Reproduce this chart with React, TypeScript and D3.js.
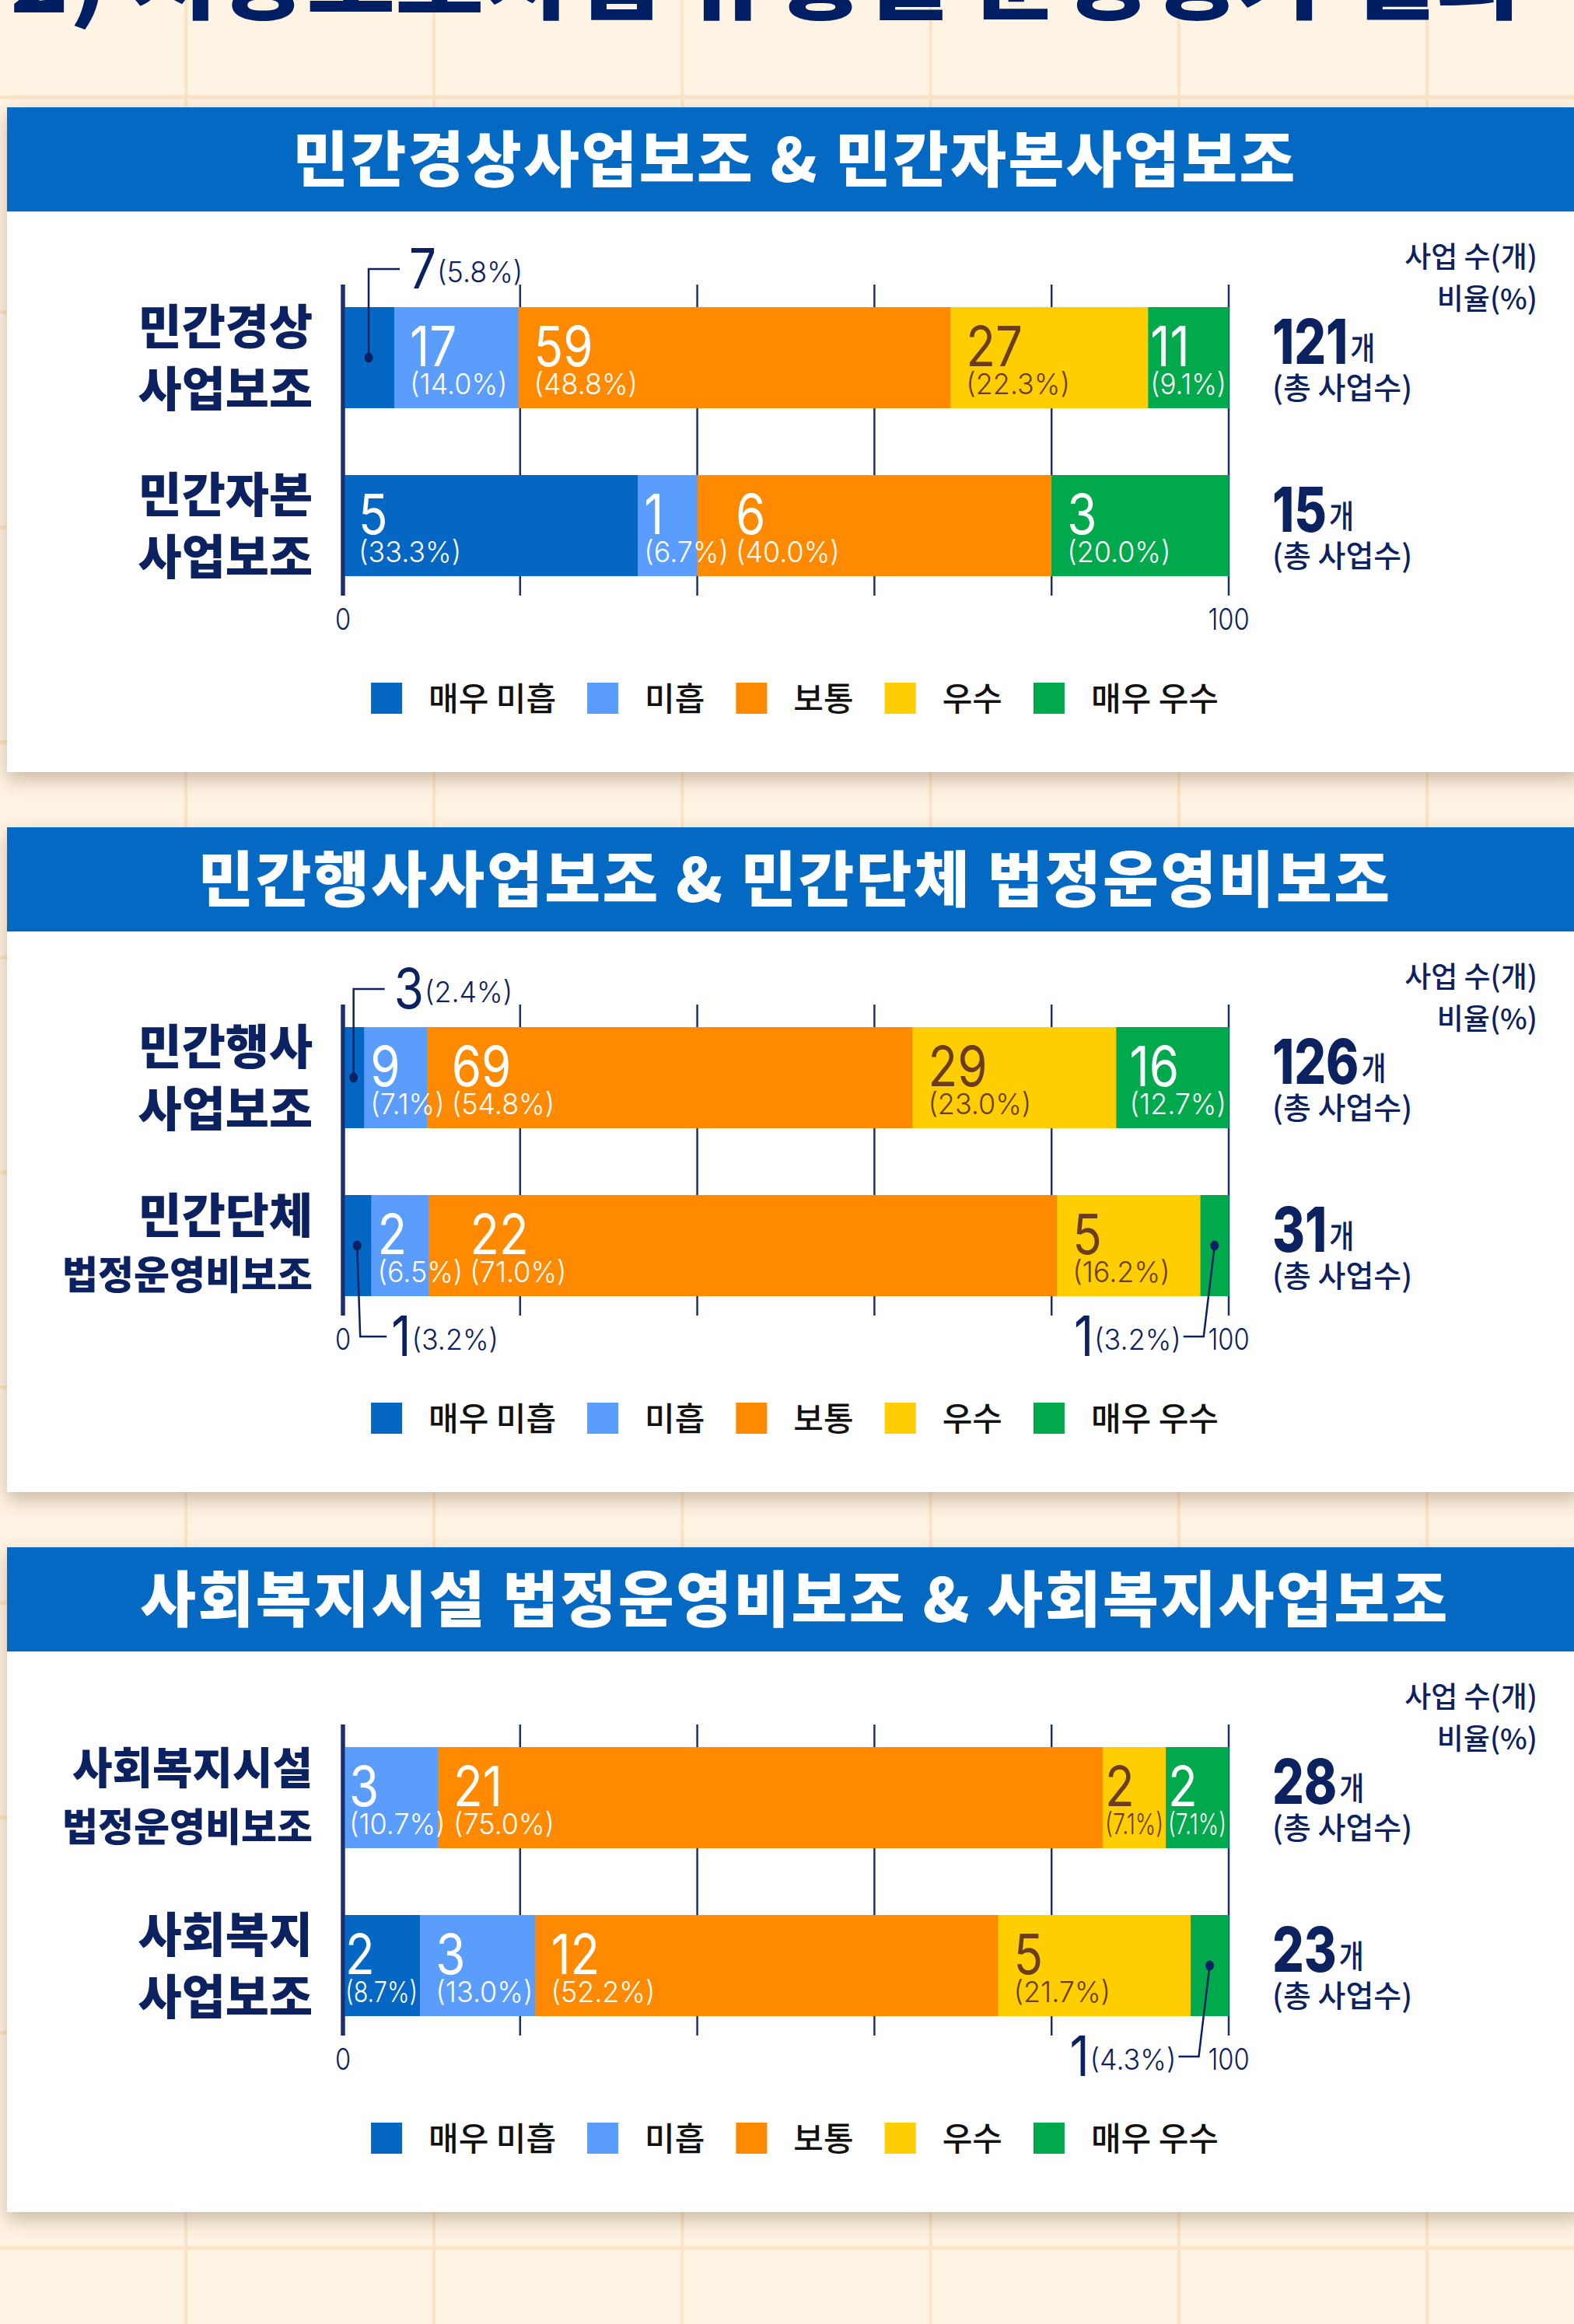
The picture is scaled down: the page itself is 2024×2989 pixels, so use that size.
import React from 'react';
import * as d3 from 'd3';

const W = 2024;
const H = 2989;

// ---------- data ----------
const titleText = '2) 지방보조사업 유형별 운영평가 결과';
const categories = ['매우 미흡', '미흡', '보통', '우수', '매우 우수'];
const categoryColors = ['#0467C3', '#5B9DFC', '#FF8A00', '#FFCE00', '#00A94B'];
const labelColors = ['#FFFFFF', '#FFFFFF', '#FFFFFF', '#6B3D1F', '#FFFFFF'];

const panelTitles = [
  '민간경상사업보조 & 민간자본사업보조',
  '민간행사사업보조 & 민간단체 법정운영비보조',
  '사회복지시설 법정운영비보조 & 사회복지사업보조',
];
const rowLabelsPanel1 = [['민간경상', '사업보조'], ['민간자본', '사업보조']];
const rowLabelsPanel2 = [['민간행사', '사업보조'], ['민간단체', '법정운영비보조']];
const rowLabelsPanel3 = [['사회복지시설', '법정운영비보조'], ['사회복지', '사업보조']];

const countsPanel1 = [[7, 17, 59, 27, 11], [5, 1, 6, 0, 3]];
const countsPanel2 = [[3, 9, 69, 29, 16], [1, 2, 22, 5, 1]];
const countsPanel3 = [[0, 3, 21, 2, 2], [2, 3, 12, 5, 1]];

const percentPanel1 = [[5.8, 14.0, 48.8, 22.3, 9.1], [33.3, 6.7, 40.0, 0, 20.0]];
const percentPanel2 = [[2.4, 7.1, 54.8, 23.0, 12.7], [3.2, 6.5, 71.0, 16.2, 3.2]];
const percentPanel3 = [[0, 10.7, 75.0, 7.1, 7.1], [8.7, 13.0, 52.2, 21.7, 4.3]];

const totalsPanel1 = [121, 15];
const totalsPanel2 = [126, 31];
const totalsPanel3 = [28, 23];

const xTicks = [0, 20, 40, 60, 80, 100];
const xTickLabels = ['0', '', '', '', '', '100'];
const unitLabels = ['사업 수(개)', '비율(%)'];
const totalSuffix = '개';
const totalCaption = '(총 사업수)';

// ---------- style ----------
const NAVY = '#0C2160';
const GRID_NAVY = '#1E2F6E';
const HEADER_BLUE = '#0369C3';
const BG = '#FFF3E4';
const BG_LINE = '#FDE3C6';
const KR = "'Noto Sans CJK KR', 'Noto Sans', sans-serif";
const NUM = "Inter, 'Noto Sans', sans-serif";
const NUM_SX = 0.86;
const PCT_SX = 0.97;
const NUM_FS = 72;
const PCT_FS = 37;
const NUM_WT = 400;
const PCT_WT = 300;

const PANEL_TOP0 = 138;
const PANEL_STEP = 926;
const PANEL_X = 9;
const PANEL_H = 855;
const HEADER_H = 134;
const X0 = 441;
const X1 = 1580;

let _ctx: CanvasRenderingContext2D | null = null;
function measure(text: string, font: string): number {
  if (!_ctx) _ctx = document.createElement('canvas').getContext('2d');
  if (!_ctx) return text.length * 20;
  _ctx.font = font;
  return _ctx.measureText(text).width;
}
const numW = (t: string) => measure(t, `${NUM_WT} ${NUM_FS}px Inter`) * NUM_SX;
const pctW = (t: string) => measure(t, `${PCT_WT} ${PCT_FS}px Inter`) * PCT_SX;
const fmtPct = (p: number) => `(${p.toFixed(1)}%)`;

function SText(props: any) {
  const { x, y, sx = 1, children, ...rest } = props;
  return (
    <text transform={`translate(${x},${y}) scale(${sx},1)`} {...rest}>
      {children}
    </text>
  );
}

function Callout({ x0, x1, barTop, barBottom, dir, count, pct }: any) {
  const cx = (x0 + x1) / 2;
  const cy = (barTop + barBottom) / 2;
  const nStr = String(count);
  const pStr = fmtPct(pct);
  const wn = numW(nStr);
  const wp = pctW(pStr);
  let d = '';
  let nx = 0;
  let px = 0;
  let ly = 0;
  if (dir === 'up') {
    ly = barTop - 49;
    d = `M${cx},${cy}V${ly}H${cx + 40}`;
    nx = cx + 52;
    px = nx + wn + 1;
  } else if (dir === 'downRight') {
    ly = barBottom + 52;
    d = `M${cx},${cy}L${cx + 4},${ly}H${cx + 38}`;
    nx = cx + 44;
    px = nx + wn + 1;
  } else {
    ly = barBottom + 52;
    d = `M${cx},${cy}L${cx - 14},${ly}H${cx - 40}`;
    px = cx - 43 - wp;
    nx = px - 1 - wn;
  }
  return (
    <g>
      <path d={d} fill="none" stroke={NAVY} strokeWidth={2.5} />
      <ellipse cx={cx} cy={cy} rx={5.5} ry={6.5} fill={NAVY} />
      <SText x={nx} y={ly + 25} sx={NUM_SX} fontFamily={NUM} fontWeight={NUM_WT} fontSize={NUM_FS} fill={NAVY}>
        {nStr}
      </SText>
      <SText x={px} y={ly + 17} sx={PCT_SX} fontFamily={NUM} fontWeight={PCT_WT} fontSize={PCT_FS} fill={NAVY}>
        {pStr}
      </SText>
    </g>
  );
}

function Panel({ index, title, labels, counts, pcts, totals }: any) {
  const top = PANEL_TOP0 + index * PANEL_STEP;
  const x = d3.scaleLinear().domain([0, 100]).range([X0, X1]);
  const y = d3
    .scaleBand<number>()
    .domain([0, 1])
    .range([top + 257, top + 603])
    .paddingInner(86 / 216);
  const bw = y.bandwidth();

  // legend layout
  const legendFont = `500 42px 'Noto Sans CJK KR'`;
  const items = categories.map((c) => ({ c, w: measure(c, legendFont) }));
  const legendTotal = d3.sum(items, (it) => 40 + 34 + it.w) + 40 * (items.length - 1);
  let lx = 1022 - legendTotal / 2;
  const legendPos = items.map((it) => {
    const p = { sx: lx, tx: lx + 74, w: it.w };
    lx += 74 + it.w + 40;
    return p;
  });

  return (
    <g>
      <rect x={PANEL_X} y={top} width={W} height={PANEL_H} fill="#FFFFFF" filter="url(#shadow)" />
      <rect x={PANEL_X} y={top} width={W} height={HEADER_H} fill={HEADER_BLUE} />
      <text
        x={1022}
        y={top + 96}
        textAnchor="middle"
        fontFamily={KR}
        fontWeight={900}
        fontSize={78}
        letterSpacing={2.5}
        fill="#FFFFFF"
      >
        {title}
      </text>

      {/* unit labels */}
      <text x={1977} y={top + 206} textAnchor="end" fontFamily={KR} fontWeight={500} fontSize={37} fill={NAVY}>
        {unitLabels[0]}
      </text>
      <text x={1977} y={top + 260} textAnchor="end" fontFamily={KR} fontWeight={500} fontSize={37} fill={NAVY}>
        {unitLabels[1]}
      </text>

      {/* grid lines */}
      {xTicks.map((t) => (
        <line
          key={t}
          x1={x(t)}
          x2={x(t)}
          y1={top + 228}
          y2={top + 628}
          stroke={GRID_NAVY}
          strokeWidth={t === 0 ? 5 : 2.5}
        />
      ))}

      {[0, 1].map((r) => {
        const barTop = y(r) as number;
        const barBottom = barTop + bw;
        const barCenter = barTop + bw / 2;
        const rowP: number[] = pcts[r];
        const rowC: number[] = counts[r];
        const cum = Array.from(d3.cumsum(rowP));
        const sum = cum[cum.length - 1];
        const segs = rowP.map((p, i) => {
          const a = i === 0 ? 0 : cum[i - 1];
          return { i, p, c: rowC[i], x0: x((a / sum) * 100), x1: x((cum[i] / sum) * 100) };
        });
        const lbl: string[] = labels[r];
        const hasSmall = lbl.some((l) => l.length >= 7);

        // in-bar label layout
        let prevEnd = -Infinity;
        let prevOverflow = false;
        const barLabels: any[] = [];
        const callouts: any[] = [];
        segs.forEach((s) => {
          if (s.c === 0) return;
          if (s.p < 6) {
            let dir = 'downLeft';
            if (s.i === 0) dir = r === 0 ? 'up' : 'downRight';
            callouts.push({ ...s, dir });
            return;
          }
          const ns = String(s.c);
          const ps = fmtPct(s.p);
          const segW = s.x1 - s.x0;
          const next = segs.slice(s.i + 1).find((n) => n.c > 0);
          const nextW = next ? next.x1 - next.x0 : 0;
          let wp = pctW(ps);
          const wn = numW(ns);
          let sxp = PCT_SX;
          let lx2 = s.x0 + 20;
          if (wp > segW - 24) {
            if (wp <= segW - 6) {
              lx2 = s.x1 - wp - 3;
            } else if (next && nextW > wp + 80) {
              lx2 = s.x0 + 8;
            } else {
              sxp = (PCT_SX * (segW - 6)) / wp;
              wp = segW - 6;
              lx2 = s.x0 + 3;
            }
          }
          if (prevOverflow) lx2 = Math.max(lx2, prevEnd + 9);
          const w = Math.max(wp, wn);
          prevEnd = lx2 + w;
          prevOverflow = prevEnd > s.x1;
          barLabels.push({ ...s, lx: lx2, ns, ps, sxp });
        });

        const totStr = String(totals[r]);
        const totW = measure(totStr, `800 80px Inter`) * 0.8;

        return (
          <g key={r}>
            {segs.map((s) =>
              s.x1 - s.x0 > 0 ? (
                <rect
                  key={s.i}
                  x={s.x0}
                  y={barTop}
                  width={s.x1 - s.x0 + 0.5}
                  height={bw}
                  fill={categoryColors[s.i]}
                />
              ) : null
            )}
            {barLabels.map((b) => (
              <g key={b.i}>
                <SText x={b.lx} y={barTop + 76} sx={NUM_SX} fontFamily={NUM} fontWeight={NUM_WT} fontSize={NUM_FS} fill={labelColors[b.i]}>
                  {b.ns}
                </SText>
                <SText x={b.lx} y={barTop + 112} sx={b.sxp} fontFamily={NUM} fontWeight={PCT_WT} fontSize={PCT_FS} fill={labelColors[b.i]}>
                  {b.ps}
                </SText>
              </g>
            ))}
            {callouts.map((c) => (
              <Callout key={c.i} x0={c.x0} x1={c.x1} barTop={barTop} barBottom={barBottom} dir={c.dir} count={c.c} pct={c.p} />
            ))}

            {/* row labels */}
            {lbl.map((ln, j) => {
              const small = ln.length >= 7;
              const fs = small ? 50 : ln.length >= 6 ? 56 : 61;
              const off = j === 0 ? (hasSmall ? -39 : -40) : hasSmall ? 37 : 40;
              return (
                <text
                  key={j}
                  x={402}
                  y={barCenter + off + 0.37 * fs}
                  textAnchor="end"
                  fontFamily={KR}
                  fontWeight={900}
                  fontSize={fs}
                  fill={NAVY}
                >
                  {ln}
                </text>
              );
            })}

            {/* totals */}
            <SText x={1636} y={barTop + 73} sx={0.8} fontFamily={NUM} fontWeight={800} fontSize={80} fill={NAVY}>
              {totStr}
            </SText>
            <SText x={1636 + totW + 3} y={barTop + 68} sx={0.85} fontFamily={KR} fontWeight={500} fontSize={41} fill={NAVY}>
              {totalSuffix}
            </SText>
            <text x={1636} y={barTop + 118} fontFamily={KR} fontWeight={500} fontSize={39} fill={NAVY}>
              {totalCaption}
            </text>
          </g>
        );
      })}

      {/* axis 0 line on top */}
      <line x1={x(0)} x2={x(0)} y1={top + 228} y2={top + 628} stroke={GRID_NAVY} strokeWidth={5} />

      {/* tick labels */}
      {xTicks.map((t, i) =>
        xTickLabels[i] ? (
          <SText
            key={t}
            x={x(t)}
            y={top + 672}
            sx={NUM_SX}
            textAnchor="middle"
            fontFamily={NUM}
            fontWeight={300}
            fontSize={38}
            fill={NAVY}
          >
            {xTickLabels[i]}
          </SText>
        ) : null
      )}

      {/* legend */}
      {legendPos.map((p, i) => (
        <g key={i}>
          <rect x={p.sx} y={top + 740} width={40} height={40} fill={categoryColors[i]} />
          <text x={p.tx} y={top + 776} fontFamily={KR} fontWeight={500} fontSize={42} fill="#111111">
            {categories[i]}
          </text>
        </g>
      ))}
    </g>
  );
}

export default function App() {
  const vLines = d3.range(-1, 7).map((k) => 239 + 319.2 * k);
  const hLines = d3.range(0, 11).map((k) => 125 + 276.6 * k);
  const panels = [
    { labels: rowLabelsPanel1, counts: countsPanel1, pcts: percentPanel1, totals: totalsPanel1 },
    { labels: rowLabelsPanel2, counts: countsPanel2, pcts: percentPanel2, totals: totalsPanel2 },
    { labels: rowLabelsPanel3, counts: countsPanel3, pcts: percentPanel3, totals: totalsPanel3 },
  ];
  return (
    <svg
      width={W}
      height={H}
      viewBox={`0 0 ${W} ${H}`}
      style={{ position: 'absolute', left: 0, top: 0, display: 'block' }}
    >
      <defs>
        <filter id="shadow" x="-5%" y="-5%" width="110%" height="115%">
          <feDropShadow dx={0} dy={10} stdDeviation={12} floodColor="#6b4a2a" floodOpacity={0.35} />
        </filter>
      </defs>
      <rect x={0} y={0} width={W} height={H} fill={BG} />
      {vLines.map((vx, i) => (
        <line key={'v' + i} x1={vx} x2={vx} y1={0} y2={H} stroke={BG_LINE} strokeWidth={4} />
      ))}
      {hLines.map((hy, i) => (
        <line key={'h' + i} x1={0} x2={W} y1={hy} y2={hy} stroke={BG_LINE} strokeWidth={5} />
      ))}
      <text
        x={13}
        y={16}
        fontFamily={KR}
        fontWeight={900}
        fontSize={108}
        fill="#001E62"
        textLength={1948}
        lengthAdjust="spacingAndGlyphs"
      >
        {titleText}
      </text>
      {panels.map((p, i) => (
        <Panel key={i} index={i} title={panelTitles[i]} {...p} />
      ))}
    </svg>
  );
}
